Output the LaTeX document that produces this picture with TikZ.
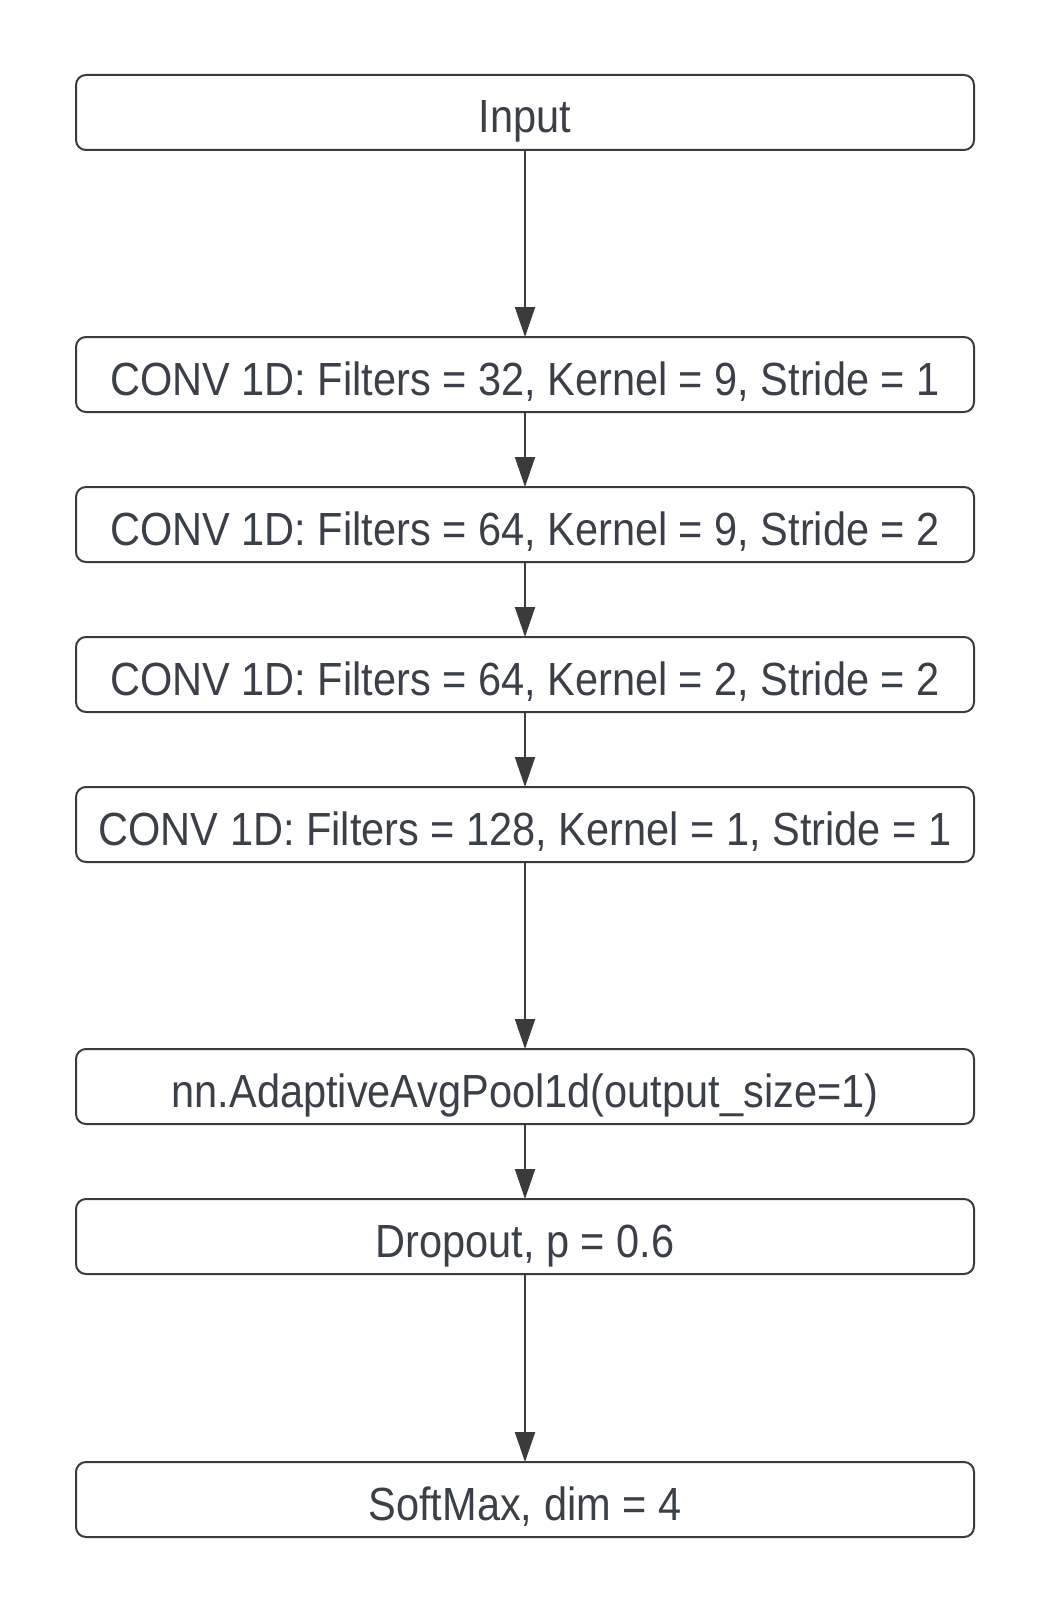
\documentclass[tikz,border=0pt]{standalone}
\usepackage{fontspec}
\setmainfont{Liberation Sans}[FakeStretch=0.893]
\usepackage{tikz}
\usetikzlibrary{positioning,arrows.meta}
\definecolor{linegray}{HTML}{3B3B3B}
\definecolor{textgray}{HTML}{3A3F48}

\begin{document}
\begin{tikzpicture}[x=1pt,y=1pt,>={Triangle[width=20pt,length=30pt]},
                    line width=2pt,main node/.style={rectangle,rounded corners=10pt,draw=linegray,
                    text=textgray,minimum width=898pt,minimum height=75pt,inner sep=0pt,outer sep=0pt,
                    text height=41pt,text depth=0pt,font=\fontsize{46.5}{56}\selectfont}]
	\useasboundingbox (0,0) rectangle (1050,-1613);
	\node[main node] (1) at (525,-112.5) {Input};
	\node[main node] (2) [below=187pt of 1] {CONV 1D: Filters = 32, Kernel = 9, Stride = 1};
	\node[main node] (3) [below=75pt of 2] {CONV 1D: Filters = 64, Kernel = 9, Stride = 2};
	\node[main node] (4) [below=75pt of 3] {CONV 1D: Filters = 64, Kernel = 2, Stride = 2};
	\node[main node] (5) [below=75pt of 4] {CONV 1D: Filters = 128, Kernel = 1, Stride = 1};
	\node[main node] (6) [below=187pt of 5] {nn.AdaptiveAvgPool1d(output\_size=1)};
	\node[main node] (7) [below=75pt of 6] {Dropout, p = 0.6};
	\node[main node] (8) [below=188pt of 7] {SoftMax, dim = 4};

	\path[->,draw=linegray,fill=linegray]
		(1) edge (2)
		(2) edge (3)
		(3) edge (4)
		(4) edge (5)
		(5) edge (6)
		(6) edge (7)
		(7) edge (8);

\end{tikzpicture}
\end{document}
